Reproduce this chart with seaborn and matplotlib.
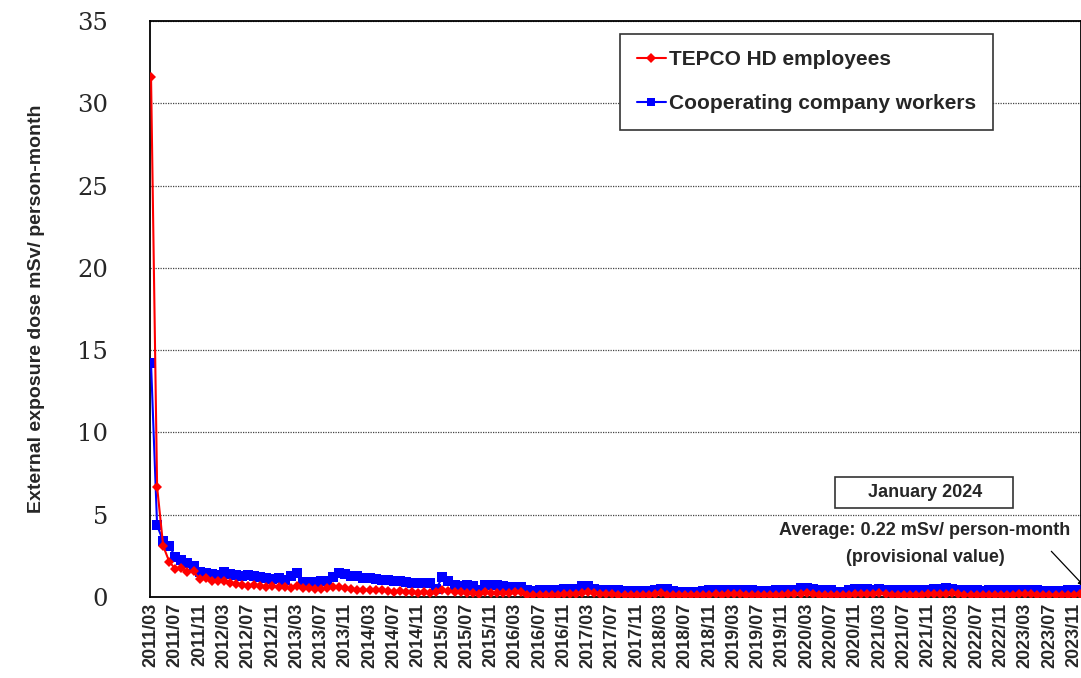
import numpy as np
import pandas as pd
import seaborn as sns
import matplotlib.pyplot as plt
from matplotlib.lines import Line2D
from matplotlib.patches import Rectangle

# monthly values, 2011/03 .. 2024/01 (mSv / person-month)
months = [p.strftime('%Y/%m') for p in pd.period_range('2011-03', '2024-01', freq='M')]

tepco = [
    31.6, 6.7, 3.1, 2.15, 1.7, 1.75, 1.5, 1.55, 1.1, 1.15,                     # 2011
    1.0, 0.95, 0.97, 0.85, 0.8, 0.75, 0.67, 0.7, 0.65, 0.62, 0.65, 0.6,       # 2012
    0.6, 0.55, 0.67, 0.55, 0.52, 0.5, 0.5, 0.55, 0.58, 0.63, 0.55, 0.5,       # 2013
    0.45, 0.45, 0.42, 0.4, 0.4, 0.38, 0.33, 0.35, 0.33, 0.3, 0.27, 0.28,      # 2014
    0.25, 0.3, 0.43, 0.35, 0.3, 0.3, 0.27, 0.25, 0.2, 0.28, 0.27, 0.25,       # 2015
    0.22, 0.25, 0.3, 0.28, 0.15, 0.12, 0.15, 0.12, 0.1, 0.15, 0.18, 0.16,     # 2016
    0.18, 0.22, 0.3, 0.24, 0.18, 0.16, 0.18, 0.15, 0.12, 0.12, 0.13, 0.12,    # 2017
    0.15, 0.2, 0.25, 0.15, 0.12, 0.1, 0.12, 0.1, 0.1, 0.14, 0.15, 0.16,       # 2018
    0.15, 0.17, 0.2, 0.16, 0.14, 0.12, 0.12, 0.13, 0.1, 0.14, 0.15, 0.16,     # 2019
    0.16, 0.2, 0.24, 0.18, 0.14, 0.13, 0.12, 0.13, 0.12, 0.15, 0.18, 0.17,    # 2020
    0.17, 0.2, 0.24, 0.18, 0.15, 0.12, 0.13, 0.13, 0.12, 0.15, 0.16, 0.18,    # 2021
    0.18, 0.2, 0.25, 0.19, 0.15, 0.12, 0.12, 0.13, 0.12, 0.14, 0.15, 0.15,    # 2022
    0.15, 0.17, 0.2, 0.17, 0.14, 0.12, 0.12, 0.13, 0.12, 0.14, 0.15, 0.16,    # 2023
    0.17,                                                                     # 2024
]

cooperating = [
    14.2, 4.35, 3.4, 3.1, 2.45, 2.25, 2.05, 1.88, 1.5, 1.45,                  # 2011
    1.4, 1.34, 1.5, 1.4, 1.35, 1.3, 1.34, 1.25, 1.2, 1.15, 1.1, 1.15,         # 2012
    1.05, 1.3, 1.45, 0.93, 0.9, 0.9, 0.95, 1.0, 1.2, 1.45, 1.4, 1.3,          # 2013
    1.25, 1.15, 1.15, 1.1, 1.05, 1.05, 1.0, 0.95, 0.9, 0.88, 0.85, 0.88,      # 2014
    0.85, 0.5, 1.23, 0.97, 0.7, 0.68, 0.7, 0.68, 0.42, 0.7, 0.72, 0.7,        # 2015
    0.65, 0.62, 0.6, 0.62, 0.45, 0.38, 0.45, 0.45, 0.42, 0.45, 0.5, 0.48,     # 2016
    0.5, 0.65, 0.65, 0.5, 0.45, 0.45, 0.45, 0.42, 0.35, 0.35, 0.35, 0.36,     # 2017
    0.38, 0.42, 0.5, 0.48, 0.35, 0.33, 0.33, 0.32, 0.33, 0.35, 0.4, 0.42,     # 2018
    0.42, 0.45, 0.45, 0.42, 0.4, 0.4, 0.38, 0.38, 0.38, 0.4, 0.4, 0.42,       # 2019
    0.45, 0.55, 0.55, 0.48, 0.45, 0.45, 0.45, 0.3, 0.32, 0.45, 0.48, 0.5,     # 2020
    0.48, 0.45, 0.5, 0.45, 0.4, 0.4, 0.42, 0.4, 0.4, 0.42, 0.45, 0.48,        # 2021
    0.5, 0.55, 0.5, 0.45, 0.42, 0.4, 0.4, 0.38, 0.4, 0.42, 0.45, 0.45,        # 2022
    0.45, 0.42, 0.45, 0.45, 0.4, 0.38, 0.36, 0.35, 0.38, 0.4, 0.42, 0.42,     # 2023
    0.42,                                                                     # 2024
]

df = pd.DataFrame({'month': np.arange(len(months)), 'tepco': tepco, 'coop': cooperating})

sns.set_style('white')
plt.rcParams['font.family'] = ['Liberation Sans', 'DejaVu Sans']
plt.rcParams['font.weight'] = 'bold'

fig = plt.figure(figsize=(10.81, 6.78), dpi=100)
ax = fig.add_axes([150 / 1081, 81 / 678, 931 / 1081, 576 / 678])

sns.lineplot(data=df, x='month', y='coop', ax=ax, color='#0000ff', lw=1.5,
             marker='s', markersize=7, markeredgewidth=0, zorder=3)
sns.lineplot(data=df, x='month', y='tepco', ax=ax, color='#ff0000', lw=1.5,
             marker='D', markersize=4.8, markeredgewidth=0, zorder=4)

ax.set_xlim(-0.17, 153.2)
ax.set_ylim(0, 35)
ax.set_yticks(range(0, 36, 5))
ax.set_yticklabels([str(v) for v in range(0, 36, 5)], family='DejaVu Serif',
                   fontsize=17.5, fontweight='normal')
ax.set_xticks(range(0, len(months), 4))
ax.set_xticklabels(months[::4], rotation=90, fontsize=13, fontweight='bold')
ax.tick_params(axis='both', direction='in', length=5, width=1, color='black')
ax.tick_params(axis='y', pad=30)
ax.tick_params(axis='x', pad=4)
ax.grid(axis='y', linestyle=(0, (1, 1)), color='#444444', lw=0.9)
for s in ax.spines.values():
    s.set_color('black')
    s.set_linewidth(1.3)

ax.set_xlabel('')
ax.set_ylabel('External exposure dose mSv/ person-month', fontsize=14, fontweight='bold', labelpad=23)

handles = [
    Line2D([], [], color='#ff0000', lw=1.5, marker='D', markersize=4.8, markeredgewidth=0),
    Line2D([], [], color='#0000ff', lw=1.5, marker='s', markersize=6, markeredgewidth=0),
]
leg = ax.legend(handles, ['TEPCO HD employees', 'Cooperating company workers'],
                loc='upper left', bbox_to_anchor=(0.505, 0.978), fontsize=15,
                frameon=True, fancybox=False, edgecolor='#333333', framealpha=1,
                handlelength=1.4, handletextpad=0.15, labelspacing=1.2,
                borderpad=0.8, borderaxespad=0)
leg.get_frame().set_linewidth(1.2)
for t in leg.get_texts():
    t.set_fontweight('bold')

# note box
ax.add_patch(Rectangle(((835 - 150) / 931, (597 - 508) / 576), 178 / 931, 31 / 576,
                       transform=ax.transAxes, fill=True, facecolor='white',
                       edgecolor='#333333', lw=1.2, zorder=5, clip_on=False))
ax.text(0.8324, 0.1806, 'January 2024', transform=ax.transAxes, ha='center', va='center',
        fontsize=13, fontweight='bold', zorder=6)
ax.text(0.8324, 0.1146, 'Average: 0.22 mSv/ person-month', transform=ax.transAxes,
        ha='center', va='center', fontsize=13, fontweight='bold', zorder=6)
ax.text(0.8324, 0.0694, '(provisional value)', transform=ax.transAxes,
        ha='center', va='center', fontsize=13, fontweight='bold', zorder=6)
ax.annotate('', xy=(154, 0.55), xytext=(148.0, 2.9), annotation_clip=False,
            arrowprops=dict(arrowstyle='-|>', color='black', lw=0.9, mutation_scale=8))

fig.savefig('out.png', dpi=100)
